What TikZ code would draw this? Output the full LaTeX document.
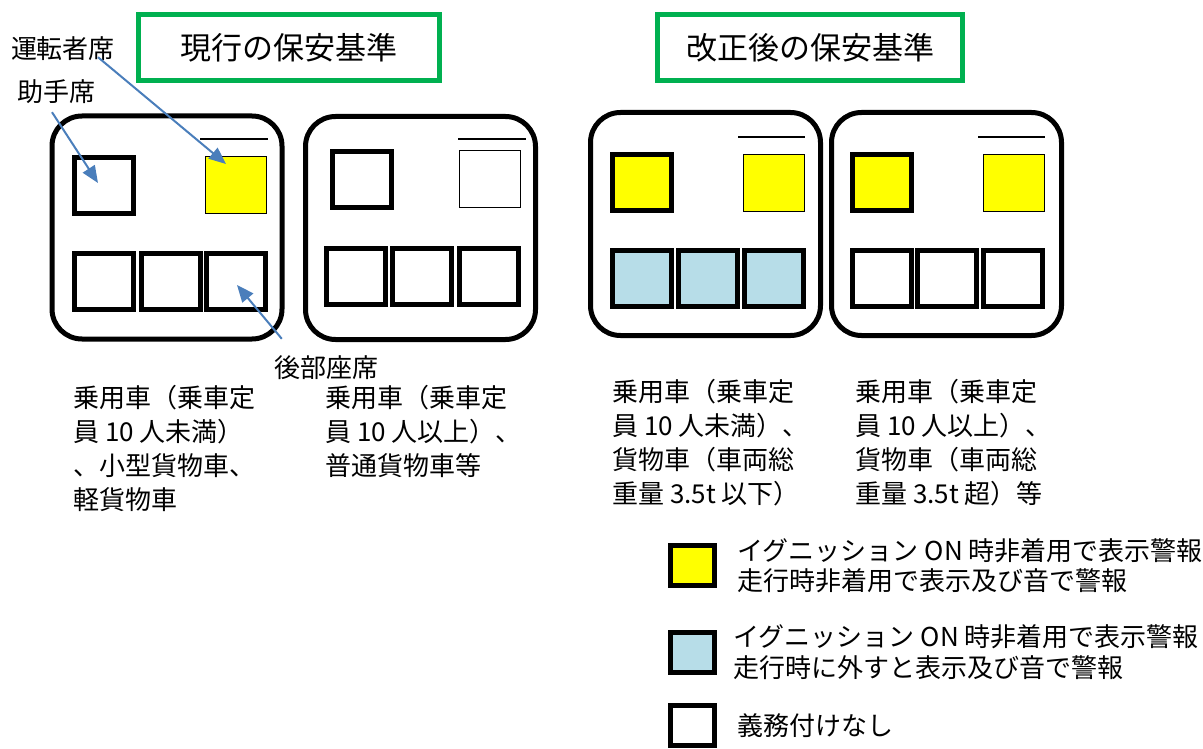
\documentclass[tikz,border=0pt]{standalone}
\usepackage{fontspec}
\setmainfont{Noto Sans CJK JP}
\usetikzlibrary{
    arrows.meta,
    positioning}
\definecolor{headgreen}{RGB}{0,176,80}
\definecolor{seatyellow}{RGB}{255,255,0}
\definecolor{seatblue}{RGB}{183,221,232}
\definecolor{callblue}{RGB}{74,126,187}

\begin{document}
\begin{tikzpicture}[x=1pt,y=-1pt,
  every node/.style={inner sep=0pt,font=\fontsize{26}{34}\selectfont},
  headbox/.style={draw=headgreen,line width=5pt,minimum width=301pt,minimum height=66pt,font=\fontsize{31}{34}\selectfont},
  car/.style={draw,line width=5pt,rounded corners=30pt,minimum width=230pt,minimum height=223pt},
  seat/.style={draw,line width=5pt,minimum width=59pt,minimum height=56pt},
  thinseat/.style={draw,line width=1pt,minimum width=61pt,minimum height=57pt},
  keybox/.style={draw,line width=5.5pt,minimum width=44pt,minimum height=40pt},
  callout/.style={callblue,line width=2pt,-{Triangle[length=17pt,width=14pt]}},
  cartext/.style={align=left,anchor=west}]

 \useasboundingbox (0,0) rectangle (1203,749);

 % headings
 \node[headbox] (oldstd) at (288.5,47.5) {現行の保安基準};
 \node[headbox,minimum width=305pt] (newstd) at (810,47.5) {改正後の保安基準};

 % car bodies
 \node[car] (car1) at (167,227.5) {};
 \node[car] (car2) at (420.5,228) {};
 \node[car] (car3) at (705.5,224) {};
 \node[car] (car4) at (946.5,224) {};
 \draw[line width=2pt] (200,139) -- (268,139);
 \draw[line width=2pt] (458,139) -- (526,139);
 \draw[line width=2pt] (738,137) -- (805,137);
 \draw[line width=2pt] (978,137) -- (1045,137);

 % front seats
 \node[seat] (c1p) at (104,186) {};
 \node[thinseat,fill=seatyellow] (c1d) at (235.5,185.5) {};
 \node[seat] (c2p) at (362,179.5) {};
 \node[thinseat] (c2d) at (490,179.5) {};
 \node[seat,fill=seatyellow] (c3p) at (642,183) {};
 \node[thinseat,fill=seatyellow] (c3d) at (774,183) {};
 \node[seat,fill=seatyellow] (c4p) at (882,183) {};
 \node[thinseat,fill=seatyellow] (c4d) at (1013.5,183) {};

 % rear seats
 \foreach \n/\x in {1/104,2/170.5,3/235.5}
  \node[seat] (c1r\n) at (\x,281.5) {};
 \foreach \n/\x in {1/355.5,2/422,3/489}
  \node[seat] (c2r\n) at (\x,276.5) {};
 \foreach \n/\x in {1/642,2/707.5,3/774}
  \node[seat,fill=seatblue] (c3r\n) at (\x,278) {};
 \foreach \n/\x in {1/882,2/947,3/1013}
  \node[seat] (c4r\n) at (\x,278) {};

 % seat names
 \node (drvlbl) at (63,49) {運転者席};
 \node (psglbl) at (56,92) {助手席};
 \node (rearlbl) at (326,368) {後部座席};
 \coordinate (drvtip) at ([shift={(-9.5,-21.5)}]c1d.center);
 \coordinate (psgtip) at ([shift={(-6,-3)}]c1p.center);
 \coordinate (reartip) at ([shift={(1.5,3.5)}]c1r3.center);
 \draw[callout] ([shift={(35,-4)}]drvlbl.south) -- (drvtip);
 \draw[callout] ([shift={(-4,8)}]psglbl.south) -- (psgtip);
 \draw[callout] ([shift={(8,-17)}]rearlbl.north west) -- (reartip);

 % vehicle classes
 \node[cartext] (txt1) at (73,448) {乗用車（乗車定\\員 10 人未満）\\、小型貨物車、\\軽貨物車};
 \node[cartext] (txt2) at (325,431.5) {乗用車（乗車定\\員 10 人以上）、\\普通貨物車等};
 \node[cartext] (txt3) at (612,443) {乗用車（乗車定\\員 10 人未満）、\\貨物車（車両総\\重量 3.5t 以下）};
 \node[cartext] (txt4) at (855,443) {乗用車（乗車定\\員 10 人以上）、\\貨物車（車両総\\重量 3.5t 超）等};

 % legend
 \node[keybox,fill=seatyellow] (key1) at (692.5,565.5) {};
 \node[keybox,fill=seatblue] (key2) at (692.5,652.5) {};
 \node[keybox] (key3) at (692.5,725.5) {};
 \node[cartext,right=20pt of key1,font=\fontsize{26}{30}\selectfont] (key1txt) {イグニッション ON 時非着用で表示警報\\走行時非着用で表示及び音で警報};
 \node[cartext,right=16pt of key2,font=\fontsize{26}{31}\selectfont] (key2txt) {イグニッション ON 時非着用で表示警報\\走行時に外すと表示及び音で警報};
 \node[cartext,right=20pt of key3] (key3txt) {義務付けなし};
\end{tikzpicture}
\end{document}
